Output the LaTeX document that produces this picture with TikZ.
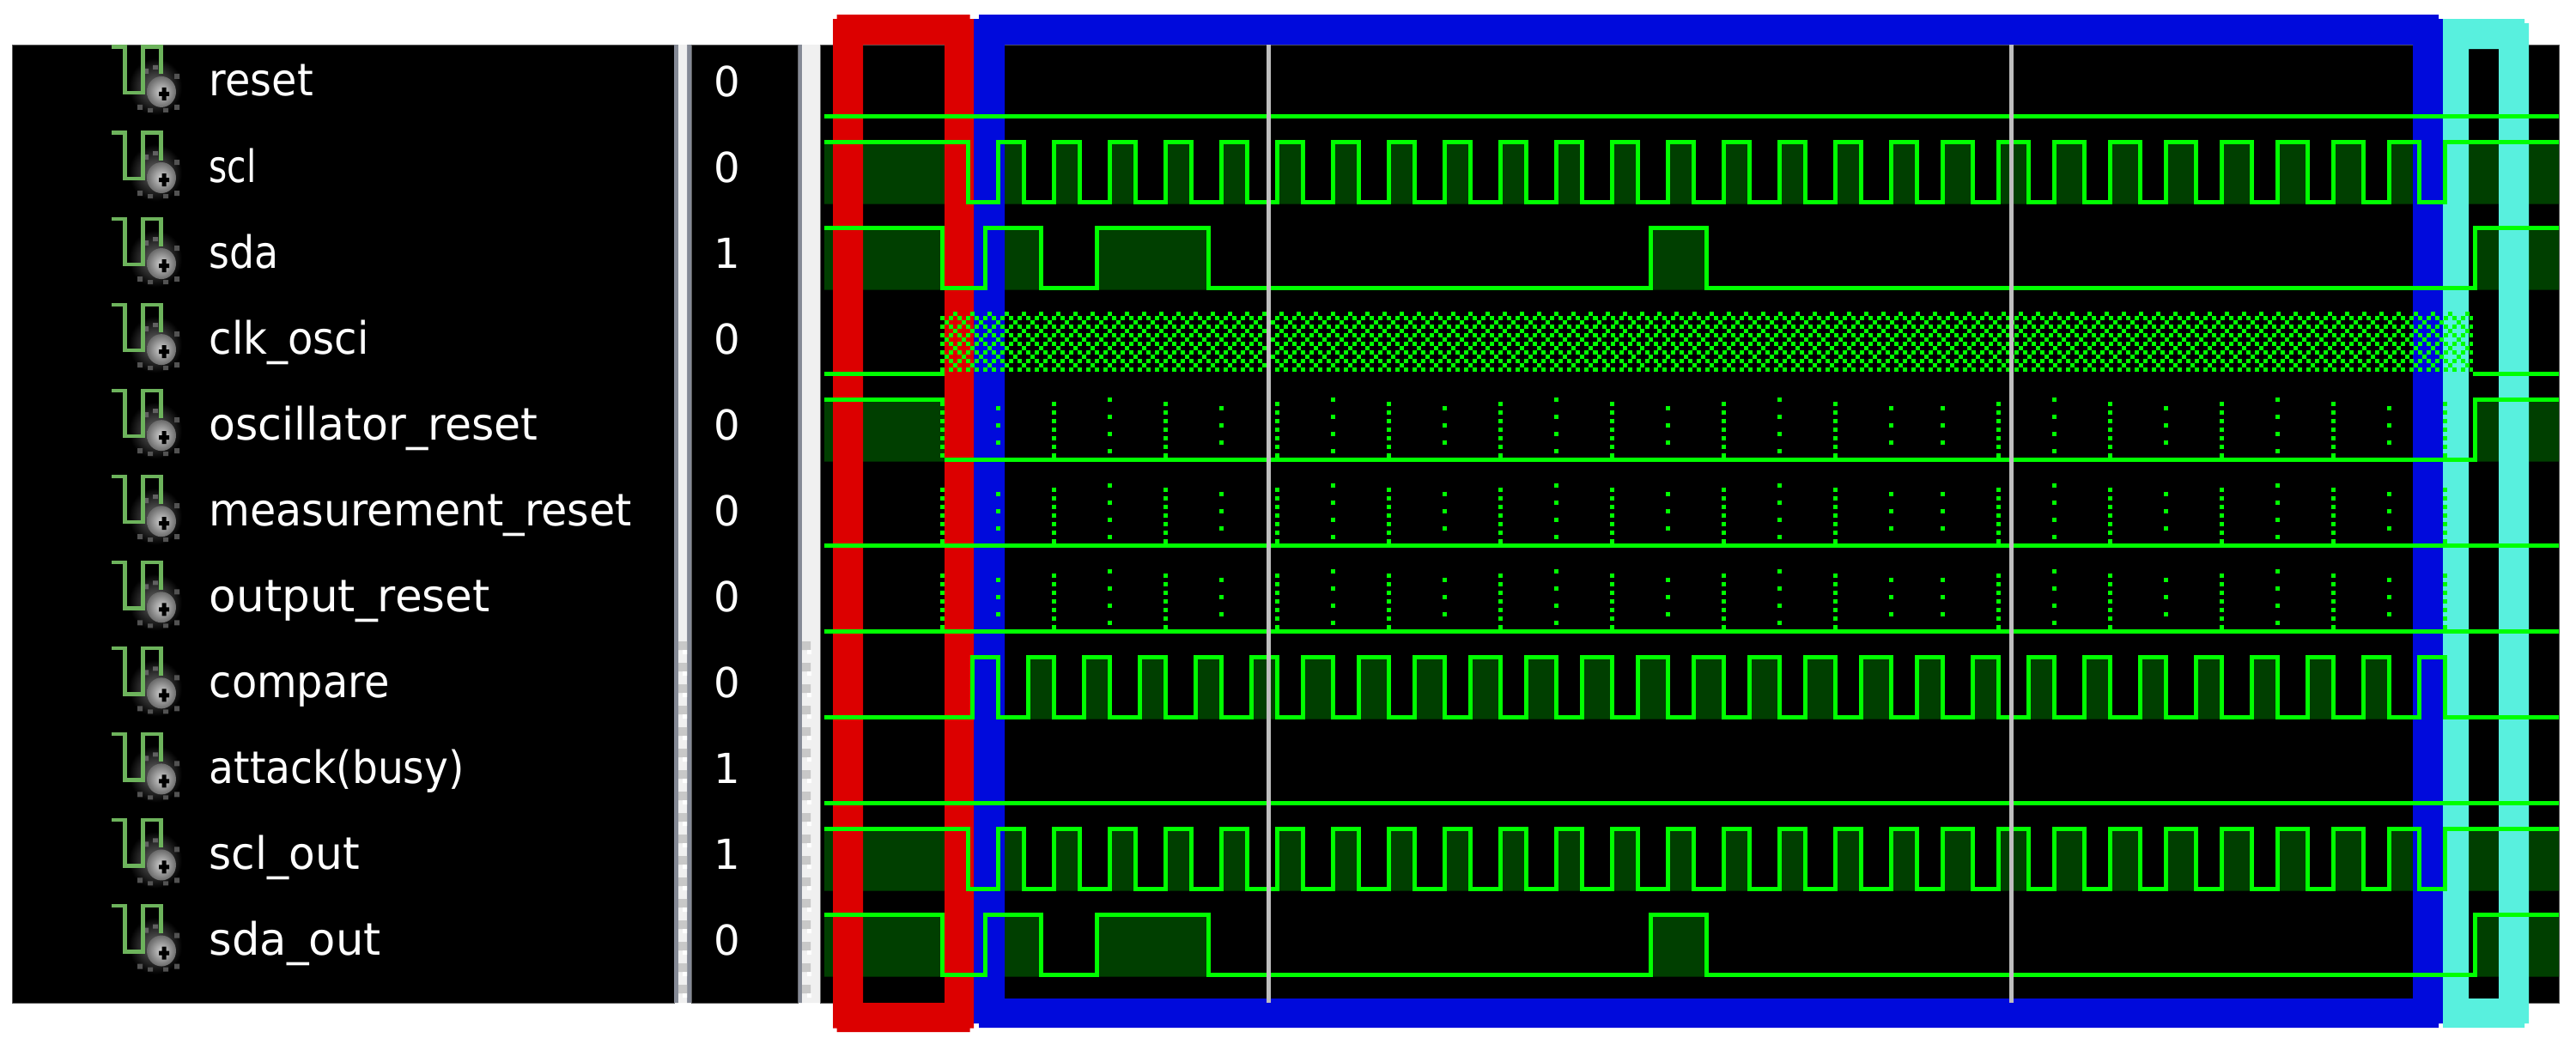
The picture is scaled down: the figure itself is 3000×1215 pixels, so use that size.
\documentclass[tikz,border=0pt]{standalone}
\usepackage{fontspec}
\newfontfamily\sigfont{DejaVu Sans}
\definecolor{sig}{HTML}{00FF00}
\definecolor{sigdark}{HTML}{003F00}
\definecolor{fred}{HTML}{DC0000}
\definecolor{fblue}{HTML}{000ADC}
\definecolor{fcyan}{HTML}{58F0DE}
\definecolor{gutdark}{HTML}{858A96}
\definecolor{gutlight}{HTML}{F0F0F0}
\definecolor{gutpatch}{HTML}{C8C8C8}
\definecolor{cursorc}{HTML}{BEBEBE}
\definecolor{iconw}{HTML}{6DB35C}
\newlength\pxu \setlength\pxu{0.01cm}
\tikzset{
  panel/.style={fill=black,draw=black!65,line width=0.01cm},
  wave/.style={draw=sig,line width=0.05cm,line join=miter,line cap=butt},
  sigfill/.style={fill=sigdark},
  dots/.style={draw=sig,line width=0.05cm,dash pattern=on 0.05cm off 0.05cm},
  sparse/.style={draw=sig,line width=0.05cm,dash pattern=on 0.05cm off 0.15cm},
  sigtext/.style={inner sep=0pt,text=white},
  cursorline/.style={fill=cursorc},
}
\def\sclpairs{1127.5/1162.5,1192.5/1227.5,1257.5/1292.5,1322.5/1357.5,1387.5/1422.5,1452.5/1487.5,1517.5/1552.5,1582.5/1617.5,1647.5/1682.5,1712.5/1747.5,1777.5/1812.5,1842.5/1877.5,1907.5/1942.5,1972.5/2007.5,2037.5/2072.5,2102.5/2137.5,2167.5/2202.5,2232.5/2262.5,2297.5/2327.5,2362.5/2392.5,2427.5/2457.5,2492.5/2522.5,2557.5/2587.5,2622.5/2652.5,2687.5/2717.5,2752.5/2782.5,2817.5/2847.5}
\def\cmppairs{1132.5/1162.5,1197.5/1227.5,1262.5/1292.5,1327.5/1357.5,1392.5/1422.5,1457.5/1487.5,1517.5/1552.5,1582.5/1617.5,1647.5/1682.5,1712.5/1747.5,1777.5/1812.5,1842.5/1877.5,1907.5/1942.5,1972.5/2007.5,2037.5/2072.5,2102.5/2137.5,2167.5/2202.5,2232.5/2262.5,2297.5/2327.5,2362.5/2392.5,2427.5/2457.5,2492.5/2522.5,2557.5/2587.5,2622.5/2652.5,2687.5/2717.5,2752.5/2782.5,2817.5/2847.5}
\newcommand\sclpath[4]{\path[#1] (960,#2) \foreach \a/\b in \sclpairs { -| (\a,#3) -| (\b,#2) } -- (2980,#2) #4;}
\newcommand\cmppath[4]{\path[#1] (960,#3) \foreach \a/\b in \cmppairs { -| (\a,#2) -| (\b,#3) } -- (2980,#3) #4;}
\newcommand\sdapath[4]{\path[#1] (960,#2) -| (1097.5,#3) -| (1147.5,#2) -| (1212.5,#3) -| (1277.5,#2) -| (1407.5,#3) -| (1922.5,#2) -| (1987.5,#3) -| (2882.5,#2) -- (2980,#2) #4;}
\newcommand\iconat[1]{%
  \begin{scope}[yshift=#1 cm]
    \shade[inner color=black!58,outer color=black] (150,168) rectangle (212,234);
    \fill[black!68] (203,186) rectangle (209,192) (203,222) rectangle (209,228) (160,222) rectangle (166,228) (172,226) rectangle (178,231) (190,226) rectangle (196,231);
    \fill[black!62] (167,180) rectangle (173,186) (178,176) rectangle (184,181);
    \shade[inner color=black!18,outer color=black!58] (188,207) ellipse [x radius=17,y radius=18];
    \fill[black] (185,207) rectangle (197,212) (188.5,202) rectangle (193.5,217);
    \draw[iconw,line width=0.045cm] (130,154.7) -- (145.5,154.7) -- (145.5,208) -- (166.5,208) -- (166.5,154.7) -- (187.7,154.7) -- (187.7,186.5);
  \end{scope}}
\begin{document}
\begin{tikzpicture}[x=0.01cm,y=-0.01cm]
\useasboundingbox (0,0) rectangle (3000,1215);
\fill[white] (0,0) rectangle (3000,1215);
% panels and gutters
\path[panel] (14,52) rectangle (785,1168);
\path[panel] (805,52) rectangle (929.5,1168);
\path[panel] (955,52) rectangle (2980,1168);
\fill[gutdark] (785,52) rectangle (790,1168) (800,52) rectangle (805,1168) (929.5,52) rectangle (934,1168);
\fill[gutlight] (790,52) rectangle (800,1168) (934,52) rectangle (955,1168);
\foreach \n in {0,...,16}{
  \fill[gutpatch] (790,{747+25*\n}) rectangle (800,{757+25*\n}) (934,{747+25*\n}) rectangle (944,{757+25*\n});
  \fill[white] (795,{757+25*\n}) rectangle (800,{762+25*\n}) (940,{757+25*\n}) rectangle (945,{762+25*\n});
}
% icons
\foreach \s in {1,0,-1,-2,-3,-4,-5,-6,-7,-8,-9}{\iconat{\s}}
% labels and values
\foreach \i/\t/\w/\v in {0/reset/121/0,1/scl/55/0,2/sda/81/1,3/clk\_osci/186/0,4/oscillator\_reset/383/0,5/measurement\_reset/492/0,6/output\_reset/327/0,7/compare/210/0,8/{attack(busy)}/297/1,9/scl\_out/175/1,10/sda\_out/200/0}{
  \node[sigtext,anchor=base west] (lbl\i) at (243,{112+100*\i}) {\resizebox{\w\pxu}{\height}{\sigfont\fontsize{14.8}{16}\selectfont \t}};
  \node[sigtext,anchor=base] (val\i) at (847,{112+100*\i}) {\sigfont\fontsize{13.7}{15}\selectfont \v};
}
% signal fills
\sclpath{sigfill}{165}{235}{-- (2980,237.5) -- (960,237.5) -- cycle}
\sclpath{sigfill}{965}{1035}{-- (2980,1037.5) -- (960,1037.5) -- cycle}
\sdapath{sigfill}{265}{335}{-- (2980,337.5) -- (960,337.5) -- cycle}
\sdapath{sigfill}{1065}{1135}{-- (2980,1137.5) -- (960,1137.5) -- cycle}
\cmppath{sigfill}{765}{835}{-- (2980,837.5) -- (960,837.5) -- cycle}
\fill[sigdark] (960,465) rectangle (1100,537.5) (2882.5,465) rectangle (2980,537.5);
% coloured frames
\fill[fblue,even odd rule] (1134,22) -- (1140,22) -- (1140,17) -- (2840,17) -- (2840,22) -- (2845,22) -- (2845,1192) -- (2840,1192) -- (2840,1197) -- (1140,1197) -- (1140,1192) -- (1134,1192) -- cycle (1170,52) rectangle (2810,1163);
\fill[fred,even odd rule] (970,22) -- (974.5,22) -- (974.5,17) -- (1129.5,17) -- (1129.5,22) -- (1134,22) -- (1134,1197.5) -- (1129.5,1197.5) -- (1129.5,1202) -- (974.5,1202) -- (974.5,1197.5) -- (970,1197.5) -- cycle (1005,52) rectangle (1100,1168);
\fill[fcyan,even odd rule] (2845,22) -- (2940,22) -- (2940,27) -- (2945,27) -- (2945,1192) -- (2940,1192) -- (2940,1197) -- (2845,1197) -- cycle (2875,57) rectangle (2910,1163);
% signal lines
\draw[wave] (960,135) -- (2980,135);
\sclpath{wave}{165}{235}{}
\sdapath{wave}{265}{335}{}
\draw[wave] (960,435) -- (1097.5,435) -- (1097.5,427.5);
\draw[wave] (2880,435) -- (2980,435);
\draw[wave] (960,465) -- (1100,465);
\draw[wave] (1100,535) -- (2882.5,535) |- (2980,465);
\draw[wave] (960,635) -- (2980,635);
\draw[wave] (960,735) -- (2980,735);
\cmppath{wave}{765}{835}{}
\draw[wave] (960,935) -- (2980,935);
\sclpath{wave}{965}{1035}{}
\sdapath{wave}{1065}{1135}{}
% clock hatch
\foreach \y in {370,380,...,430}{\draw[dots] (1095,\y) -- (2880,\y);}
\foreach \y in {365,385,405,425}{\draw[sparse] (1110,\y) -- (2880,\y);}
\foreach \y in {375,395,415}{\draw[sparse] (1100,\y) -- (2880,\y);}
% dotted edges on the three reset rows
\foreach \r in {0,1,2}{
  \begin{scope}[yshift=-\r cm]
    \foreach \x in {1097.5,1227.5,1357.5,1487.5,1617.5,1747.5,1877.5,2007.5,2137.5,2327.5,2457.5,2587.5,2717.5,2847.5}{\draw[dots] (\x,467.5) -- (\x,532.5);}
    \foreach \x in {1162.5,1422.5,1682.5,1942.5,2202.5,2262.5,2522.5,2782.5}{\draw[sparse] (\x,472.5) -- (\x,517.5);}
    \foreach \x in {1292.5,1552.5,1812.5,2072.5,2392.5,2652.5}{\draw[sparse] (\x,462.5) -- (\x,527.5);}
  \end{scope}
}
% cursors
\fill[cursorline] (1475,52) rectangle (1480,1168);
\fill[cursorline] (2340,52) rectangle (2345,1168);
\end{tikzpicture}
\end{document}
